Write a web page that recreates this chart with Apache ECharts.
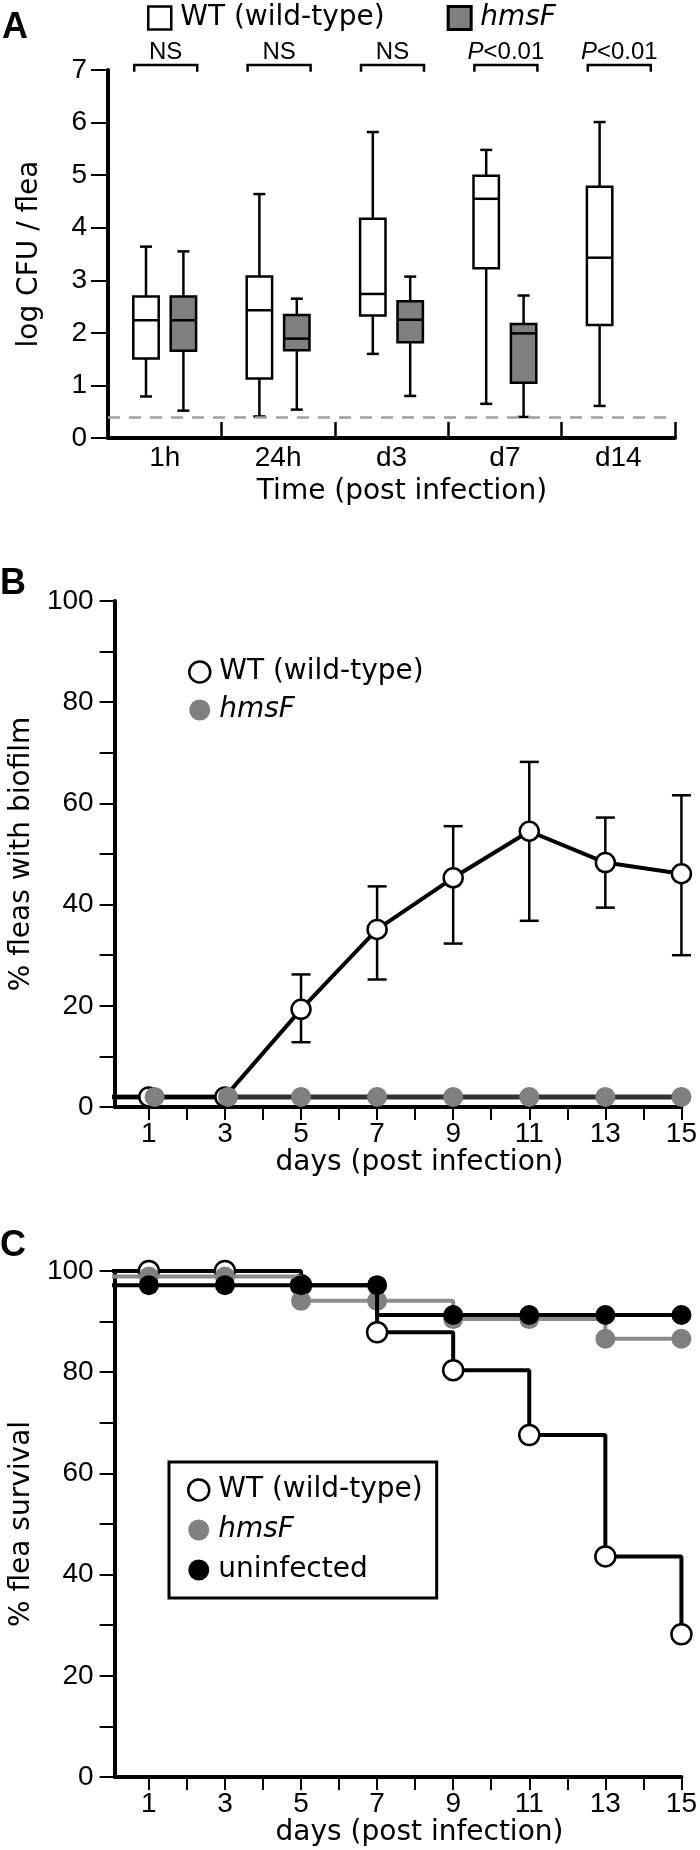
<!DOCTYPE html>
<html>
<head>
<meta charset="utf-8">
<script src="https://cdn.jsdelivr.net/npm/echarts@6/dist/echarts.min.js"></script>
<style>
html,body{margin:0;padding:0;background:#fff;}
#chart{width:700px;height:1850px;}
</style>
</head>
<body>
<div id="chart"></div>
<script>
// ---------- Panel A: log CFU / flea (box plots) ----------
const timeCats = ['1h', '24h', 'd3', 'd7', 'd14'];
// each box: [min, Q1, median, Q3, max]
const wtBoxes = [
  [0.79, 1.51, 2.24, 2.69, 3.64],
  [0.41, 1.13, 2.43, 3.07, 4.64],
  [1.60, 2.33, 2.74, 4.17, 5.82],
  [0.65, 3.23, 4.55, 4.99, 5.48],
  [0.61, 2.15, 3.43, 4.78, 6.01]
];
const hmsFBoxes = [
  [0.52, 1.66, 2.24, 2.69, 3.55],
  [0.54, 1.67, 1.89, 2.34, 2.65],
  [0.80, 1.82, 2.25, 2.60, 3.07],
  [0.40, 1.05, 1.99, 2.17, 2.71],
  null
];
const statLabels = ['NS', 'NS', 'NS', 'P<0.01', 'P<0.01'];
const detectionLimit = 0.39;

// ---------- Panel B: % fleas with biofilm ----------
const biofilmDays = [0, 1, 3, 5, 7, 9, 11, 13, 15];
const wtBiofilm = [2.0, 2.0, 2.0, 19.3, 35.1, 45.3, 54.5, 48.3, 46.1];
const wtBiofilmLow = [null, null, null, 12.8, 25.2, 32.3, 36.8, 39.4, 30.0];
const wtBiofilmHigh = [null, null, null, 26.2, 43.6, 55.5, 68.2, 57.2, 61.6];
const hmsFBiofilmDays = [0, 1.15, 3.08, 5, 7, 9, 11, 13, 15];
const hmsFBiofilm = [2.0, 2.0, 2.0, 2.0, 2.0, 2.0, 2.0, 2.0, 2.0];

// ---------- Panel C: % flea survival ----------
const survivalDays = [0, 1, 3, 5, 7, 9, 11, 13, 15];
const wtSurvival = [100, 100, 100, 97.2, 87.9, 80.4, 67.6, 43.6, 28.2];
const hmsFSurvival = [98.9, 98.9, 98.9, 94.1, 94.1, 90.5, 90.5, 86.6, 86.6];
const uninfSurvival = [97.2, 97.2, 97.2, 97.2, 97.2, 91.3, 91.3, 91.3, 91.3];

const dayTickValues = [1, 2, 3, 4, 5, 6, 7, 8, 9, 10, 11, 12, 13, 14, 15];
const dayLabelValues = [1, 3, 5, 7, 9, 11, 13, 15];

// ---------- styling helpers ----------
const TICK_FONT = 'Liberation Sans';
const TEXT_FONT = 'DejaVu Sans';
const BLACK = '#000';
const GRAY = '#7f7f7f';

function legendFormatter(name) {
  const label = name.split('|')[1];
  return label === 'hmsF' ? '{i|hmsF}' : label;
}
const legendText = {
  fontFamily: TEXT_FONT, fontSize: 28, color: BLACK, padding: [0, 0, 0, 4],
  rich: { i: { fontFamily: TEXT_FONT, fontSize: 28, fontStyle: 'italic', color: BLACK } }
};

function boxRenderer(offset, fill) {
  return function (params, api) {
    const i = api.value(0);
    const cx = api.coord([i, 0])[0] + offset;
    const yMin = api.coord([i, api.value(1)])[1];
    const yQ1 = api.coord([i, api.value(2)])[1];
    const yMed = api.coord([i, api.value(3)])[1];
    const yQ3 = api.coord([i, api.value(4)])[1];
    const yMax = api.coord([i, api.value(5)])[1];
    const half = 12.7, cap = 6;
    const ls = { stroke: BLACK, lineWidth: 2.5 };
    return {
      type: 'group',
      children: [
        { type: 'line', shape: { x1: cx, y1: yMax, x2: cx, y2: yQ3 }, style: ls },
        { type: 'line', shape: { x1: cx, y1: yQ1, x2: cx, y2: yMin }, style: ls },
        { type: 'line', shape: { x1: cx - cap, y1: yMax, x2: cx + cap, y2: yMax }, style: ls },
        { type: 'line', shape: { x1: cx - cap, y1: yMin, x2: cx + cap, y2: yMin }, style: ls },
        { type: 'rect', shape: { x: cx - half, y: yQ3, width: 2 * half, height: yQ1 - yQ3 },
          style: { fill: fill, stroke: BLACK, lineWidth: 2.5 } },
        { type: 'line', shape: { x1: cx - half, y1: yMed, x2: cx + half, y2: yMed }, style: ls }
      ]
    };
  };
}

function statRenderer(params, api) {
  const i = api.value(0);
  const c = api.coord([i, api.value(1)]);
  const cx = c[0] + 1, top = c[1];
  const label = statLabels[params.dataIndex];
  const txt = label.charAt(0) === 'P' ? '{i|P}' + label.slice(1) : label;
  return {
    type: 'group',
    children: [
      { type: 'polyline',
        shape: { points: [[cx - 31.5, top + 1.7], [cx - 31.5, top - 5], [cx + 31.5, top - 5], [cx + 31.5, top + 1.7]] },
        style: { stroke: BLACK, lineWidth: 2.5, fill: 'none' } },
      { type: 'text',
        style: { text: txt, x: cx, y: top - 18, align: 'center', verticalAlign: 'middle',
          fontFamily: TICK_FONT, fontSize: 24, fill: BLACK,
          rich: { i: { fontFamily: TICK_FONT, fontSize: 24, fontStyle: 'italic', fill: BLACK } } } }
    ]
  };
}

function errorRenderer(params, api) {
  const d = api.value(0);
  const top = api.coord([d, api.value(2)]);
  const bot = api.coord([d, api.value(1)]);
  const cap = 9.5;
  const ls = { stroke: BLACK, lineWidth: 2.5 };
  return {
    type: 'group',
    children: [
      { type: 'line', shape: { x1: top[0], y1: top[1], x2: bot[0], y2: bot[1] }, style: ls },
      { type: 'line', shape: { x1: top[0] - cap, y1: top[1], x2: top[0] + cap, y2: top[1] }, style: ls },
      { type: 'line', shape: { x1: bot[0] - cap, y1: bot[1], x2: bot[0] + cap, y2: bot[1] }, style: ls }
    ]
  };
}

function pointsWithHiddenStart(xs, ys) {
  return xs.map((x, k) => k === 0 ? { value: [x, ys[k]], symbol: 'none' } : [x, ys[k]]);
}

const dayAxis = (idx, gap) => ({
  type: 'value', gridIndex: idx, min: 0.1, max: 15,
  axisLine: { show: true, lineStyle: { color: BLACK, width: 4 } },
  axisTick: { show: true, customValues: dayTickValues, length: 13, lineStyle: { color: BLACK, width: 2 } },
  axisLabel: { customValues: dayLabelValues, margin: 13, fontFamily: TICK_FONT, fontSize: 28, color: BLACK },
  splitLine: { show: false },
  name: 'days (post infection)', nameLocation: 'middle', nameGap: gap,
  nameTextStyle: { fontFamily: TEXT_FONT, fontSize: 28, color: BLACK, padding: [0, 0, 0, 43] }
});
const pctAxis = (idx, name) => ({
  type: 'value', gridIndex: idx, min: 0, max: 100, interval: 10,
  axisLine: { show: true, lineStyle: { color: BLACK, width: 4 } },
  axisTick: { show: true, length: 15, lineStyle: { color: BLACK, width: 2 } },
  axisLabel: { margin: 21, fontFamily: TICK_FONT, fontSize: 28, color: BLACK,
    formatter: v => (v % 20 === 0 ? String(v) : '') },
  splitLine: { show: false },
  name: name, nameLocation: 'middle', nameGap: 66, nameRotate: 90,
  nameTextStyle: { fontFamily: TEXT_FONT, fontSize: 28, color: BLACK }
});

const letterStyle = { fontFamily: TICK_FONT, fontWeight: 'bold', fontSize: 36, color: BLACK };

const option = {
  animation: false,
  backgroundColor: '#fff',
  textStyle: { fontFamily: TICK_FONT },
  title: [
    { text: 'A', left: 2, top: 10, padding: 0, textStyle: letterStyle },
    { text: 'B', left: 0, top: 566, padding: 0, textStyle: letterStyle },
    { text: 'C', left: 0, top: 1228, padding: 0, textStyle: letterStyle }
  ],
  legend: [
    { left: 147, top: 4, padding: 0, orient: 'horizontal', icon: 'rect', itemWidth: 23, itemHeight: 23,
      itemGap: 62, selectedMode: false, formatter: legendFormatter, textStyle: legendText,
      data: [
        { name: 'A|WT (wild-type)', itemStyle: { color: '#fff', borderColor: BLACK, borderWidth: 2.5 } },
        { name: 'A|hmsF', itemStyle: { color: GRAY, borderColor: BLACK, borderWidth: 3 } }
      ] },
    { left: 188, top: 658, padding: 0, orient: 'vertical', icon: 'circle', itemWidth: 21, itemHeight: 21,
      itemGap: 10, selectedMode: false, formatter: legendFormatter, textStyle: legendText,
      data: [
        { name: 'B|WT (wild-type)', itemStyle: { color: '#fff', borderColor: BLACK, borderWidth: 2.5 } },
        { name: 'B|hmsF', itemStyle: { color: '#808080', borderWidth: 0 } }
      ] },
    { left: 169, top: 1462, padding: [14, 14, 14, 18], orient: 'vertical', icon: 'circle', itemWidth: 21, itemHeight: 21,
      itemGap: 12, selectedMode: false, formatter: legendFormatter, textStyle: legendText,
      borderColor: BLACK, borderWidth: 3,
      data: [
        { name: 'C|WT (wild-type)', itemStyle: { color: '#fff', borderColor: BLACK, borderWidth: 2.5 } },
        { name: 'C|hmsF', itemStyle: { color: '#808080', borderWidth: 0 } },
        { name: 'C|uninfected', itemStyle: { color: BLACK, borderWidth: 0 } }
      ] }
  ],
  grid: [
    { left: 108, top: 70, width: 567, height: 368 },
    { left: 113, top: 601, width: 569, height: 506 },
    { left: 113, top: 1271, width: 569, height: 506 }
  ],
  xAxis: [
    { type: 'category', gridIndex: 0, data: timeCats, boundaryGap: true,
      axisLine: { show: true, lineStyle: { color: BLACK, width: 4 } },
      axisTick: { show: true, inside: true, length: 16, lineStyle: { color: BLACK, width: 2.5 },
        interval: (idx) => idx > 0 },
      axisLabel: { margin: 6, fontFamily: TICK_FONT, fontSize: 28, color: BLACK },
      splitLine: { show: false },
      name: 'Time (post infection)', nameLocation: 'middle', nameGap: 40,
      nameTextStyle: { fontFamily: TEXT_FONT, fontSize: 28, color: BLACK, padding: [0, 0, 0, 21] } },
    dayAxis(1, 37),
    dayAxis(2, 40)
  ],
  yAxis: [
    { type: 'value', gridIndex: 0, min: 0, max: 7, interval: 1,
      axisLine: { show: true, lineStyle: { color: BLACK, width: 4 } },
      axisTick: { show: true, length: 17, lineStyle: { color: BLACK, width: 2 } },
      axisLabel: { margin: 21, fontFamily: TICK_FONT, fontSize: 28, color: BLACK },
      splitLine: { show: false },
      name: 'log CFU / flea', nameLocation: 'middle', nameGap: 64, nameRotate: 90,
      nameTextStyle: { fontFamily: TEXT_FONT, fontSize: 28, color: BLACK } },
    pctAxis(1, '% fleas with biofilm'),
    pctAxis(2, '% flea survival')
  ],
  series: [
    // Panel A
    { type: 'custom', name: 'A|WT (wild-type)', xAxisIndex: 0, yAxisIndex: 0,
      itemStyle: { color: '#fff', borderColor: BLACK, borderWidth: 2.5 },
      encode: { x: 0, y: [1, 2, 3, 4, 5] },
      data: wtBoxes.map((b, i) => [i].concat(b)),
      renderItem: boxRenderer(-18.7, '#fff'),
      markLine: { silent: true, symbol: 'none', label: { show: false },
        lineStyle: { color: '#a0a0a0', type: [12, 9], width: 2.5 },
        data: [{ yAxis: detectionLimit }] } },
    { type: 'custom', name: 'A|hmsF', xAxisIndex: 0, yAxisIndex: 0,
      itemStyle: { color: GRAY, borderColor: BLACK, borderWidth: 3 },
      encode: { x: 0, y: [1, 2, 3, 4, 5] },
      data: hmsFBoxes.map((b, i) => (b ? [i].concat(b) : null)).filter(d => d),
      renderItem: boxRenderer(18.7, GRAY) },
    { type: 'custom', name: 'A|stats', xAxisIndex: 0, yAxisIndex: 0,
      encode: { x: 0, y: 1 },
      data: statLabels.map((s, i) => [i, 7]),
      renderItem: statRenderer },
    // Panel B
    { type: 'custom', name: 'B|errors', xAxisIndex: 1, yAxisIndex: 1, z: 1,
      encode: { x: 0, y: [1, 2] },
      data: biofilmDays.map((d, k) => (wtBiofilmLow[k] == null ? null : [d, wtBiofilmLow[k], wtBiofilmHigh[k]])).filter(d => d),
      renderItem: errorRenderer },
    { type: 'line', name: 'B|hmsF line', xAxisIndex: 1, yAxisIndex: 1, z: 2,
      showSymbol: false, symbol: 'none',
      lineStyle: { color: '#333', width: 5 },
      data: hmsFBiofilmDays.map((d, k) => [d, hmsFBiofilm[k]]) },
    { type: 'line', name: 'B|WT (wild-type)', xAxisIndex: 1, yAxisIndex: 1, z: 3,
      symbol: 'circle', symbolSize: 19, showAllSymbol: true,
      itemStyle: { color: '#fff', borderColor: BLACK, borderWidth: 2.5 },
      lineStyle: { color: BLACK, width: 4 },
      data: pointsWithHiddenStart(biofilmDays, wtBiofilm) },
    { type: 'scatter', name: 'B|hmsF', xAxisIndex: 1, yAxisIndex: 1, z: 4,
      symbol: 'circle', symbolSize: 20,
      itemStyle: { color: '#808080', opacity: 1 },
      data: hmsFBiofilmDays.slice(1).map((d, k) => [d, hmsFBiofilm[k + 1]]) },
    // Panel C
    { type: 'line', name: 'C|WT (wild-type)', xAxisIndex: 2, yAxisIndex: 2, z: 2, step: 'end',
      symbol: 'circle', symbolSize: 20, showAllSymbol: true,
      itemStyle: { color: '#fff', borderColor: BLACK, borderWidth: 2.5 },
      lineStyle: { color: BLACK, width: 4 },
      data: pointsWithHiddenStart(survivalDays, wtSurvival) },
    { type: 'line', name: 'C|hmsF', xAxisIndex: 2, yAxisIndex: 2, z: 3, step: 'end',
      symbol: 'circle', symbolSize: 20, showAllSymbol: true,
      itemStyle: { color: '#808080', borderWidth: 0 },
      lineStyle: { color: '#8c8c8c', width: 4 },
      data: pointsWithHiddenStart(survivalDays, hmsFSurvival) },
    { type: 'line', name: 'C|uninfected', xAxisIndex: 2, yAxisIndex: 2, z: 4, step: 'start',
      symbol: 'circle', symbolSize: 20, showAllSymbol: true,
      itemStyle: { color: BLACK, borderWidth: 0 },
      lineStyle: { color: BLACK, width: 4 },
      data: pointsWithHiddenStart(survivalDays, uninfSurvival) }
  ]
};

const chart = echarts.init(document.getElementById('chart'), null, { renderer: 'canvas' });
chart.setOption(option);
</script>
</body>
</html>
